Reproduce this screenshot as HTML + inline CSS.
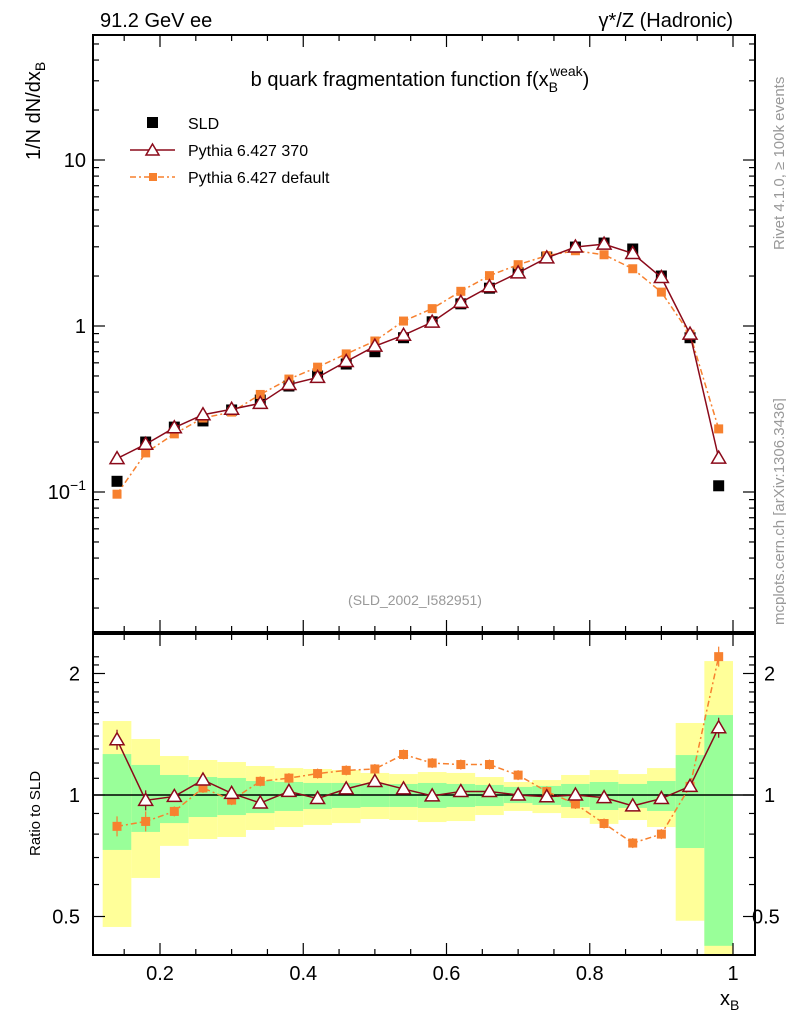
<!DOCTYPE html>
<html><head><meta charset="utf-8"><style>
body{margin:0;background:#fff}
svg{display:block;font-family:"Liberation Sans",sans-serif}
</style></head><body>
<svg id="c" width="786" height="1024" viewBox="0 0 786 1024" xmlns="http://www.w3.org/2000/svg">
<g id="bands"></g>
<g id="marks"></g>
<g id="axes"></g>
<text x="100" y="27" font-size="20">91.2 GeV ee</text>
<text x="733" y="27" font-size="20" text-anchor="end">γ*/Z (Hadronic)</text>
<text x="420" y="86" font-size="20" text-anchor="middle">b quark fragmentation function f(x<tspan font-size="14" dy="6">B</tspan><tspan font-size="14" dx="-8" dy="-16">weak</tspan><tspan dy="10">)</tspan></text>
<g transform="translate(40,160) rotate(-90)"><text x="0" y="0" font-size="20">1/N  dN/dx<tspan font-size="14" dy="5">B</tspan></text></g>
<g transform="translate(40,856) rotate(-90)"><text x="0" y="0" font-size="15">Ratio to SLD</text></g>
<text x="720" y="1005" font-size="20">x<tspan font-size="14" dy="5">B</tspan></text>
<text x="415" y="605" font-size="14" fill="#999" text-anchor="middle">(SLD_2002_I582951)</text>
<g transform="translate(784,250) rotate(-90)"><text font-size="15" fill="#999">Rivet 4.1.0, ≥ 100k events</text></g>
<g transform="translate(784,625) rotate(-90)"><text font-size="15" fill="#999">mcplots.cern.ch [arXiv:1306.3436]</text></g>
<g>
<rect x="147" y="117" width="11" height="11" fill="#000"/>
<text x="188" y="129" font-size="16">SLD</text>
<line x1="130" y1="150" x2="175" y2="150" stroke="#8b0a1a" stroke-width="1.5"/>
<path d="M152.5,144 L159,155 L146,155 Z" fill="#fff" stroke="#8b0a1a" stroke-width="1.5"/>
<text x="188" y="156" font-size="16">Pythia 6.427 370</text>
<line x1="130" y1="177" x2="175" y2="177" stroke="#f7812f" stroke-width="1.5" stroke-dasharray="6,3,2,3"/>
<rect x="149" y="173" width="8" height="8" fill="#f7812f"/>
<text x="188" y="183" font-size="16">Pythia 6.427 default</text>
</g>
</svg>
<script>
const xCenters=[0.14,0.18,0.22,0.26,0.30,0.34,0.38,0.42,0.46,0.50,0.54,0.58,0.62,0.66,0.70,0.74,0.78,0.82,0.86,0.90,0.94,0.98];
const binWidth=0.04;
const sld=[0.116,0.2,0.246,0.268,0.312,0.358,0.435,0.5,0.59,0.70,0.85,1.06,1.36,1.69,2.09,2.6,2.99,3.16,2.91,2.0,0.85,0.109];
const p370=[0.159,0.194,0.244,0.292,0.315,0.342,0.444,0.49,0.611,0.756,0.880,1.055,1.387,1.724,2.09,2.574,2.99,3.113,2.735,1.96,0.893,0.160];
const pdef=[0.097,0.172,0.224,0.279,0.303,0.387,0.479,0.565,0.679,0.812,1.071,1.272,1.618,2.011,2.341,2.652,2.841,2.686,2.212,1.6,0.893,0.240];
const yelHi=[1.525,1.376,1.249,1.221,1.207,1.180,1.166,1.160,1.153,1.134,1.127,1.140,1.134,1.108,1.077,1.089,1.121,1.153,1.127,1.166,1.508,2.147];
const yelLo=[0.471,0.623,0.748,0.778,0.787,0.819,0.833,0.843,0.852,0.872,0.867,0.857,0.862,0.892,0.913,0.902,0.877,0.848,0.867,0.833,0.488,0.3];
const grnHi=[1.263,1.187,1.121,1.108,1.102,1.083,1.077,1.071,1.071,1.065,1.065,1.071,1.065,1.059,1.047,1.053,1.065,1.077,1.065,1.083,1.256,1.578];
const grnLo=[0.731,0.810,0.852,0.882,0.892,0.902,0.913,0.923,0.929,0.934,0.934,0.929,0.934,0.939,0.955,0.945,0.934,0.918,0.929,0.913,0.739,0.423];
const xTicks=[0.2,0.4,0.6,0.8,1];
const NS="http://www.w3.org/2000/svg";
const L=93,R=755,T=35,B=632,RT=634,RB=955;
const X=v=>160+(v-0.2)*716.25;
const Y=v=>326-Math.log10(v)*166;
const YR=v=>795-Math.log2(v)*121.5;
function mk(tag,attrs,parent){const e=document.createElementNS(NS,tag);for(const k in attrs)e.setAttribute(k,attrs[k]);parent.appendChild(e);return e;}
const bands=document.getElementById('bands'),marks=document.getElementById('marks'),axes=document.getElementById('axes');
xCenters.forEach((c,i)=>{
 const x0=X(c-binWidth/2),x1=Math.min(X(c+binWidth/2),R);
 const y1=Math.max(YR(yelHi[i]),RT),y2=Math.min(YR(yelLo[i]),RB);
 const e=mk('rect',{x:x0,y:y1,width:x1-x0,height:y2-y1,fill:'#ffff99'},bands);
 
 
 const g1=Math.max(YR(grnHi[i]),RT),g2=Math.min(YR(grnLo[i]),RB);
 const g=mk('rect',{x:x0,y:g1,width:x1-x0,height:g2-g1,fill:'#99ff99'},bands);
 
 
});
mk('line',{x1:L,x2:R,y1:795,y2:795,stroke:'#000','stroke-width':1.5},marks);
function series(vals,color,dash,type,ratio){
 const f=ratio?((v,i)=>YR(v/sld[i])):((v,i)=>Y(v));
 const pts=vals.map((v,i)=>X(xCenters[i])+','+f(v,i)).join(' ');
 const pl=mk('polyline',{points:pts,fill:'none',stroke:color,'stroke-width':1.5},marks);
 if(dash)pl.setAttribute('stroke-dasharray',dash);
 
 
 vals.forEach((v,i)=>{
  const x=X(xCenters[i]),y=f(v,i);let m;
  if(ratio){const e=(i<2||i>=vals.length-1)?10:5;mk('line',{x1:x,x2:x,y1:y-e,y2:y+e,stroke:color,'stroke-width':1.2},marks);}
  if(type==='tri')m=mk('path',{d:`M${x},${y-7}L${x+7},${y+5}L${x-7},${y+5}Z`,fill:'#fff',stroke:color,'stroke-width':1.5},marks);
  else m=mk('rect',{x:x-4.5,y:y-4.5,width:9,height:9,fill:color},marks);
  
  
 });
}
xCenters.forEach((c,i)=>{const m=mk('rect',{x:X(c)-5.5,y:Y(sld[i])-5.5,width:11,height:11,fill:'#000'},marks);
 
 });
series(pdef,'#f7812f','6,3,2,3','sq',false);
series(p370,'#8b0a1a',null,'tri',false);
series(pdef,'#f7812f','6,3,2,3','sq',true);
series(p370,'#8b0a1a',null,'tri',true);
mk('rect',{x:L,y:T,width:R-L,height:B-T,fill:'none',stroke:'#000','stroke-width':2},axes);
mk('rect',{x:L,y:RT,width:R-L,height:RB-RT,fill:'none',stroke:'#000','stroke-width':2},axes);
for(let v=0.15;v<=1.03;v+=0.05){const x=X(v);const maj=xTicks.some(t=>Math.abs(t-v)<1e-6);const len=maj?12:6;
 [[T,1],[B,-1],[RT,1],[RB,-1]].forEach(([y,s])=>mk('line',{x1:x,x2:x,y1:y,y2:y+s*len,stroke:'#000','stroke-width':1.2},axes));}
xTicks.forEach(v=>{const t=mk('text',{x:X(v),y:980,'font-size':20,'text-anchor':'middle'},axes);t.textContent=String(v);
 
 });
for(let d=-2;d<=1;d++)for(let k=1;k<10;k++){const v=k*Math.pow(10,d);const y=Y(v);if(y<T||y>B)continue;const len=k===1?12:6;
 mk('line',{x1:L,x2:L+len,y1:y,y2:y,stroke:'#000','stroke-width':1.2},axes);mk('line',{x1:R,x2:R-len,y1:y,y2:y,stroke:'#000','stroke-width':1.2},axes);}
const t10=mk('text',{x:86,y:Y(10)+7,'font-size':20,'text-anchor':'end'},axes);t10.textContent='10';
const t1=mk('text',{x:86,y:Y(1)+7,'font-size':20,'text-anchor':'end'},axes);t1.textContent='1';
const tm=mk('text',{x:86,y:Y(0.1)+7,'font-size':20,'text-anchor':'end'},axes);tm.innerHTML='10<tspan font-size="14" dy="-9">−1</tspan>';
[0.5,0.6,0.7,0.8,0.9,1,1.1,1.2,1.3,1.4,1.5,1.6,1.7,1.8,1.9,2,2.1,2.2].forEach(v=>{const y=YR(v);if(y<RT||y>RB)return;const maj=(v===0.5||v===1||v===2);const len=maj?12:6;
 mk('line',{x1:L,x2:L+len,y1:y,y2:y,stroke:'#000','stroke-width':1.2},axes);mk('line',{x1:R,x2:R-len,y1:y,y2:y,stroke:'#000','stroke-width':1.2},axes);
 if(maj){const a=mk('text',{x:80,y:y+7,'font-size':20,'text-anchor':'end'},axes);a.textContent=String(v);
  const b=mk('text',{x:v===0.5?752:764,y:y+7,'font-size':20},axes);b.textContent=String(v);}});
</script>
</body></html>
